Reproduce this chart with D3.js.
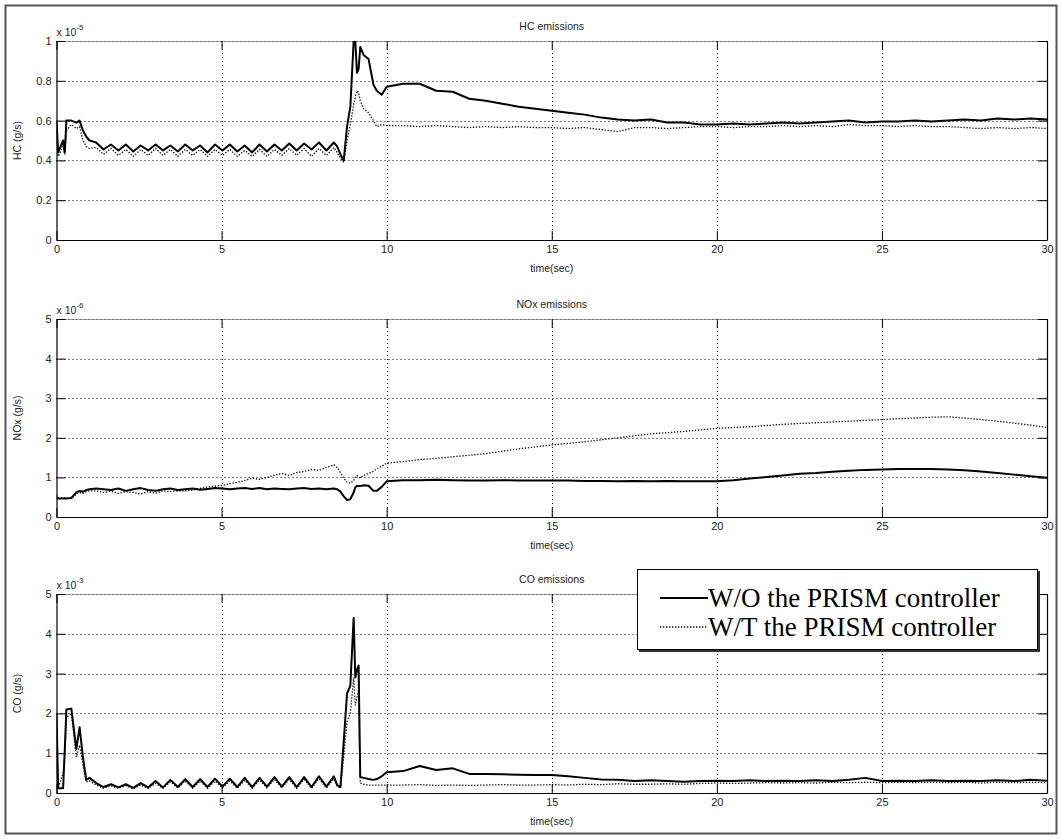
<!DOCTYPE html>
<html>
<head>
<meta charset="utf-8">
<script src="https://cdn.jsdelivr.net/npm/d3@7"></script>
<style>
  body { margin: 0; background: #fff; }
  svg { display: block; font-family: "Liberation Sans", Arial, sans-serif; }
  .tick text { font-size: 11px; fill: #222; }
  .lbl { font-size: 10.5px; fill: #222; }
</style>
</head>
<body>
<div id="app"></div>
<script>
// time samples shared by all six traces (sec)
const timeSec = [
  0, 0.05, 0.2, 0.25, 0.3, 0.45, 0.6, 0.7, 0.8, 0.9, 1.0,
  1.2, 1.425, 1.65, 1.875, 2.1, 2.325, 2.55, 2.775, 3.0, 3.225, 3.45, 3.675, 3.9,
  4.125, 4.35, 4.575, 4.8, 5.025, 5.25, 5.475, 5.7, 5.925, 6.15, 6.375, 6.6, 6.825,
  7.05, 7.275, 7.5, 7.725, 7.95, 8.175, 8.4,
  8.5, 8.6, 8.7, 8.8, 8.9, 9.0, 9.05, 9.1, 9.15, 9.2, 9.3, 9.45, 9.6, 9.7, 9.85, 10.0,
  10.5, 11, 11.5, 12, 12.5, 13, 13.5, 14, 14.5, 15, 15.5, 16, 16.5, 17, 17.5, 18, 18.5,
  19, 19.5, 20, 20.5, 21, 21.5, 22, 22.5, 23, 23.5, 24, 24.5, 25, 25.5, 26, 26.5, 27,
  27.5, 28, 28.5, 29, 29.5, 30
];

// HC (x 1e-5 g/s)
const hcWithout = [
  0.60, 0.44, 0.50, 0.44, 0.60, 0.60, 0.59, 0.60, 0.55, 0.52, 0.50,
  0.49, 0.455, 0.48, 0.45, 0.48, 0.445, 0.475, 0.45, 0.48, 0.45, 0.475, 0.445, 0.48,
  0.45, 0.475, 0.44, 0.48, 0.45, 0.48, 0.445, 0.475, 0.44, 0.48, 0.445, 0.48, 0.45,
  0.485, 0.45, 0.485, 0.455, 0.49, 0.45, 0.49,
  0.47, 0.43, 0.40, 0.57, 0.67, 1.0, 1.0, 0.84, 0.86, 0.97, 0.93, 0.91, 0.78, 0.75, 0.73, 0.77,
  0.785, 0.785, 0.75, 0.745, 0.71, 0.70, 0.685, 0.67, 0.66, 0.65, 0.64, 0.63, 0.615, 0.605,
  0.60, 0.605, 0.59, 0.59, 0.58, 0.58, 0.585, 0.58, 0.585, 0.59, 0.585, 0.59, 0.595, 0.60,
  0.59, 0.595, 0.595, 0.60, 0.595, 0.60, 0.605, 0.60, 0.61, 0.605, 0.61, 0.605
];
const hcWith = [
  0.55, 0.42, 0.47, 0.43, 0.55, 0.58, 0.56, 0.57, 0.50, 0.47, 0.46,
  0.465, 0.43, 0.46, 0.425, 0.455, 0.42, 0.455, 0.425, 0.46, 0.425, 0.455, 0.42, 0.455,
  0.425, 0.455, 0.42, 0.455, 0.425, 0.455, 0.42, 0.45, 0.42, 0.455, 0.42, 0.455, 0.425,
  0.46, 0.425, 0.46, 0.42, 0.46, 0.425, 0.465,
  0.44, 0.41, 0.39, 0.50, 0.58, 0.68, 0.72, 0.75, 0.74, 0.70, 0.66, 0.64, 0.60, 0.57, 0.58, 0.575,
  0.575, 0.57, 0.575, 0.57, 0.565, 0.57, 0.565, 0.57, 0.565, 0.565, 0.56, 0.565, 0.555, 0.545,
  0.565, 0.565, 0.56, 0.565, 0.57, 0.57, 0.565, 0.57, 0.57, 0.575, 0.57, 0.575, 0.57, 0.58,
  0.575, 0.575, 0.57, 0.575, 0.57, 0.57, 0.565, 0.56, 0.565, 0.56, 0.565, 0.56
];

// NOx (x 1e-6 g/s)
const noxWithout = [
  0.50, 0.47, 0.47, 0.47, 0.47, 0.48, 0.62, 0.66, 0.64, 0.68, 0.70,
  0.72, 0.70, 0.68, 0.72, 0.66, 0.70, 0.73, 0.68, 0.66, 0.70, 0.72, 0.68, 0.70,
  0.72, 0.69, 0.71, 0.73, 0.72, 0.70, 0.72, 0.73, 0.71, 0.73, 0.70, 0.72, 0.71,
  0.70, 0.72, 0.73, 0.71, 0.72, 0.70, 0.72,
  0.70, 0.64, 0.52, 0.43, 0.45, 0.62, 0.75, 0.78, 0.78, 0.78, 0.80, 0.79, 0.66, 0.66, 0.76, 0.90,
  0.93, 0.93, 0.94, 0.93, 0.92, 0.92, 0.93, 0.92, 0.92, 0.92, 0.92, 0.91, 0.91, 0.90,
  0.91, 0.90, 0.91, 0.90, 0.90, 0.90, 0.93, 0.97, 1.01, 1.05, 1.09, 1.11, 1.14, 1.17,
  1.19, 1.20, 1.21, 1.21, 1.21, 1.20, 1.18, 1.15, 1.11, 1.07, 1.03, 0.99
];
const noxWith = [
  0.55, 0.48, 0.50, 0.48, 0.47, 0.47, 0.58, 0.62, 0.60, 0.64, 0.66,
  0.66, 0.62, 0.65, 0.60, 0.64, 0.62, 0.58, 0.64, 0.60, 0.66, 0.64, 0.66, 0.66,
  0.68, 0.72, 0.76, 0.78, 0.80, 0.84, 0.88, 0.92, 0.98, 0.95, 1.00, 1.05, 1.10,
  1.05, 1.12, 1.15, 1.20, 1.18, 1.25, 1.32,
  1.25, 1.12, 0.98, 0.88, 0.85, 0.92, 1.00, 1.05, 1.02, 0.98, 1.05, 1.10, 1.15, 1.22, 1.28, 1.36,
  1.40, 1.45, 1.48, 1.52, 1.56, 1.60, 1.66, 1.72, 1.77, 1.82, 1.86, 1.90, 1.95, 2.00,
  2.05, 2.10, 2.13, 2.16, 2.20, 2.24, 2.26, 2.28, 2.31, 2.34, 2.36, 2.38, 2.40, 2.42,
  2.44, 2.46, 2.48, 2.50, 2.52, 2.53, 2.50, 2.46, 2.42, 2.37, 2.32, 2.26
];

// CO (x 1e-3 g/s)
const coWithout = [
  2.0, 0.12, 0.12, 1.08, 2.1, 2.12, 1.1, 1.65, 0.9, 0.33, 0.38,
  0.25, 0.15, 0.22, 0.14, 0.22, 0.13, 0.25, 0.14, 0.30, 0.14, 0.33, 0.15, 0.35,
  0.15, 0.35, 0.15, 0.36, 0.16, 0.36, 0.15, 0.38, 0.15, 0.38, 0.16, 0.40, 0.16,
  0.40, 0.15, 0.40, 0.15, 0.42, 0.16, 0.42,
  0.20, 0.15, 1.3, 2.5, 2.7, 4.4, 2.9, 3.1, 3.2, 0.40, 0.38, 0.35, 0.33, 0.35, 0.42, 0.52,
  0.55, 0.68, 0.58, 0.62, 0.48, 0.48, 0.47, 0.46, 0.45, 0.45, 0.42, 0.38, 0.34, 0.33,
  0.30, 0.32, 0.30, 0.28, 0.30, 0.31, 0.30, 0.32, 0.30, 0.31, 0.30, 0.32, 0.30, 0.33,
  0.38, 0.30, 0.31, 0.30, 0.32, 0.30, 0.31, 0.30, 0.32, 0.30, 0.33, 0.31
];
const coWith = [
  1.0, 0.12, 0.5, 0.9, 1.9, 2.0, 0.9, 1.2, 0.7, 0.28, 0.30,
  0.20, 0.12, 0.18, 0.12, 0.18, 0.11, 0.20, 0.12, 0.24, 0.12, 0.28, 0.13, 0.30,
  0.12, 0.30, 0.12, 0.30, 0.13, 0.30, 0.12, 0.32, 0.12, 0.32, 0.13, 0.34, 0.13,
  0.34, 0.12, 0.34, 0.12, 0.36, 0.13, 0.36,
  0.18, 0.12, 0.9, 1.8, 2.0, 2.9, 2.2, 2.4, 2.6, 0.25, 0.22, 0.20, 0.20, 0.20, 0.20, 0.20,
  0.20, 0.21, 0.19, 0.20, 0.19, 0.20, 0.21, 0.20, 0.20, 0.21, 0.20, 0.22, 0.21, 0.23,
  0.22, 0.22, 0.23, 0.22, 0.24, 0.25, 0.24, 0.25, 0.26, 0.25, 0.26, 0.25, 0.27, 0.26,
  0.27, 0.26, 0.27, 0.26, 0.27, 0.26, 0.27, 0.25, 0.27, 0.26, 0.27, 0.26
];

const hcTicks = [0, 0.2, 0.4, 0.6, 0.8, 1];
const unitTicks = [0, 1, 2, 3, 4, 5];
const timeTicks = [0, 5, 10, 15, 20, 25, 30];
const legendNames = ["W/O the PRISM controller", "W/T the PRISM controller"];

const W = 1061, H = 839;
const svg = d3.select("#app").append("svg").attr("width", W).attr("height", H);

// outer frame
svg.append("rect")
  .attr("x", 5.5).attr("y", 5.5).attr("width", 1051).attr("height", 828)
  .attr("fill", "none").attr("stroke", "#555").attr("stroke-width", 2);

const x = d3.scaleLinear().domain([0, 30]).range([56.5, 1047]);

const panels = [
  { id: "hc", title: "HC emissions", ylabel: "HC (g/s)", exp: "-5", top: 41, bottom: 240,
    max: 1, ticks: hcTicks, fmt: d3.format("~g"), a: hcWithout, b: hcWith },
  { id: "nox", title: "NOx emissions", ylabel: "NOx (g/s)", exp: "-6", top: 319, bottom: 517,
    max: 5, ticks: unitTicks, fmt: d3.format("d"), a: noxWithout, b: noxWith },
  { id: "co", title: "CO emissions", ylabel: "CO (g/s)", exp: "-3", top: 594, bottom: 793,
    max: 5, ticks: unitTicks, fmt: d3.format("d"), a: coWithout, b: coWith }
];

panels.forEach((p) => {
  const y = d3.scaleLinear().domain([0, p.max]).range([p.bottom, p.top]);
  const g = svg.append("g");
  const [x0, x1] = x.range();

  svg.append("clipPath").attr("id", "clip-" + p.id)
    .append("rect").attr("x", x0).attr("y", p.top).attr("width", x1 - x0).attr("height", p.bottom - p.top);

  //grid
  g.selectAll(".hgrid").data(p.ticks.slice(1)).enter().append("line")
    .attr("x1", x0).attr("x2", x1)
    .attr("y1", (d) => Math.round(y(d)) + 0.5).attr("y2", (d) => Math.round(y(d)) + 0.5)
    .attr("stroke", "#000").attr("stroke-width", 1).attr("stroke-dasharray", "1,3");
  g.selectAll(".vgrid").data(timeTicks.slice(1, -1)).enter().append("line")
    .attr("y1", p.top).attr("y2", p.bottom)
    .attr("x1", (d) => Math.round(x(d)) + 0.5).attr("x2", (d) => Math.round(x(d)) + 0.5)
    .attr("stroke", "#000").attr("stroke-width", 1).attr("stroke-dasharray", "1,3");

  //axes, ticks inward like matlab
  g.append("g").attr("transform", `translate(0,${p.bottom})`)
    .call(d3.axisBottom(x).tickValues(timeTicks).tickSizeInner(-9).tickSizeOuter(0).tickPadding(5))
    .call((s) => s.select(".domain").attr("stroke-width", 1.2));
  g.append("g").attr("transform", `translate(0,${p.top})`)
    .call(d3.axisTop(x).tickValues(timeTicks).tickSizeInner(-9).tickSizeOuter(0).tickFormat(""))
    .call((s) => s.select(".domain").attr("stroke", "#666").attr("stroke-width", 0.6));
  g.append("g").attr("transform", `translate(${x0},0)`)
    .call(d3.axisLeft(y).tickValues(p.ticks).tickSizeInner(-9).tickSizeOuter(0).tickPadding(5).tickFormat(p.fmt))
    .call((s) => s.select(".domain").attr("stroke-width", 1.2));
  g.append("g").attr("transform", `translate(${x1},0)`)
    .call(d3.axisRight(y).tickValues(p.ticks).tickSizeInner(-9).tickSizeOuter(0).tickFormat(""))
    .call((s) => s.select(".domain").attr("stroke-width", 1.2));
  g.selectAll(".tick text").attr("font-size", 11).attr("fill", "#222")
    .attr("font-family", "Liberation Sans, Arial, sans-serif");

  //traces
  const line = (vals) => d3.line().x((d, i) => x(timeSec[i])).y((d) => y(d))(vals);
  const traces = g.append("g").attr("clip-path", `url(#clip-${p.id})`);
  traces.append("path").attr("d", line(p.b)).attr("fill", "none")
    .attr("stroke", "#000").attr("stroke-width", 1.3).attr("stroke-dasharray", "1.3,1.7");
  traces.append("path").attr("d", line(p.a)).attr("fill", "none")
    .attr("stroke", "#000").attr("stroke-width", 2).attr("stroke-linejoin", "round");

  //labels
  const cx = (x0 + x1) / 2;
  g.append("text").attr("class", "lbl").attr("x", cx).attr("y", p.top - 11)
    .attr("text-anchor", "middle").text(p.title);
  g.append("text").attr("class", "lbl").attr("x", cx).attr("y", p.bottom + 32)
    .attr("text-anchor", "middle").text("time(sec)");
  g.append("text").attr("class", "lbl")
    .attr("transform", `translate(21,${(p.top + p.bottom) / 2}) rotate(-90)`)
    .attr("text-anchor", "middle").text(p.ylabel);
  const ex = g.append("text").attr("class", "lbl").attr("x", x0).attr("y", p.top - 5);
  ex.append("tspan").text("x 10");
  ex.append("tspan").attr("dy", -6).attr("font-size", 8).text(p.exp);
});

//legend
const lg = svg.append("g").attr("transform", "translate(637,569)");
lg.append("rect").attr("x", 2).attr("y", 2).attr("width", 401).attr("height", 81).attr("fill", "#333");
lg.append("rect").attr("x", 0.5).attr("y", 0.5).attr("width", 400).attr("height", 80)
  .attr("fill", "#fff").attr("stroke", "#000").attr("stroke-width", 1);
legendNames.forEach((name, i) => {
  const yy = 29 + i * 29;
  lg.append("line").attr("x1", 23).attr("x2", 71).attr("y1", yy).attr("y2", yy)
    .attr("stroke", "#000").attr("stroke-width", i === 0 ? 2 : 1.3)
    .attr("stroke-dasharray", i === 0 ? null : "1.3,1.7");
  lg.append("text").attr("x", 71).attr("y", yy + 9)
    .attr("font-family", "Liberation Serif, Times New Roman, serif").attr("font-size", 27)
    .attr("fill", "#000").text(name);
});
</script>
</body>
</html>
